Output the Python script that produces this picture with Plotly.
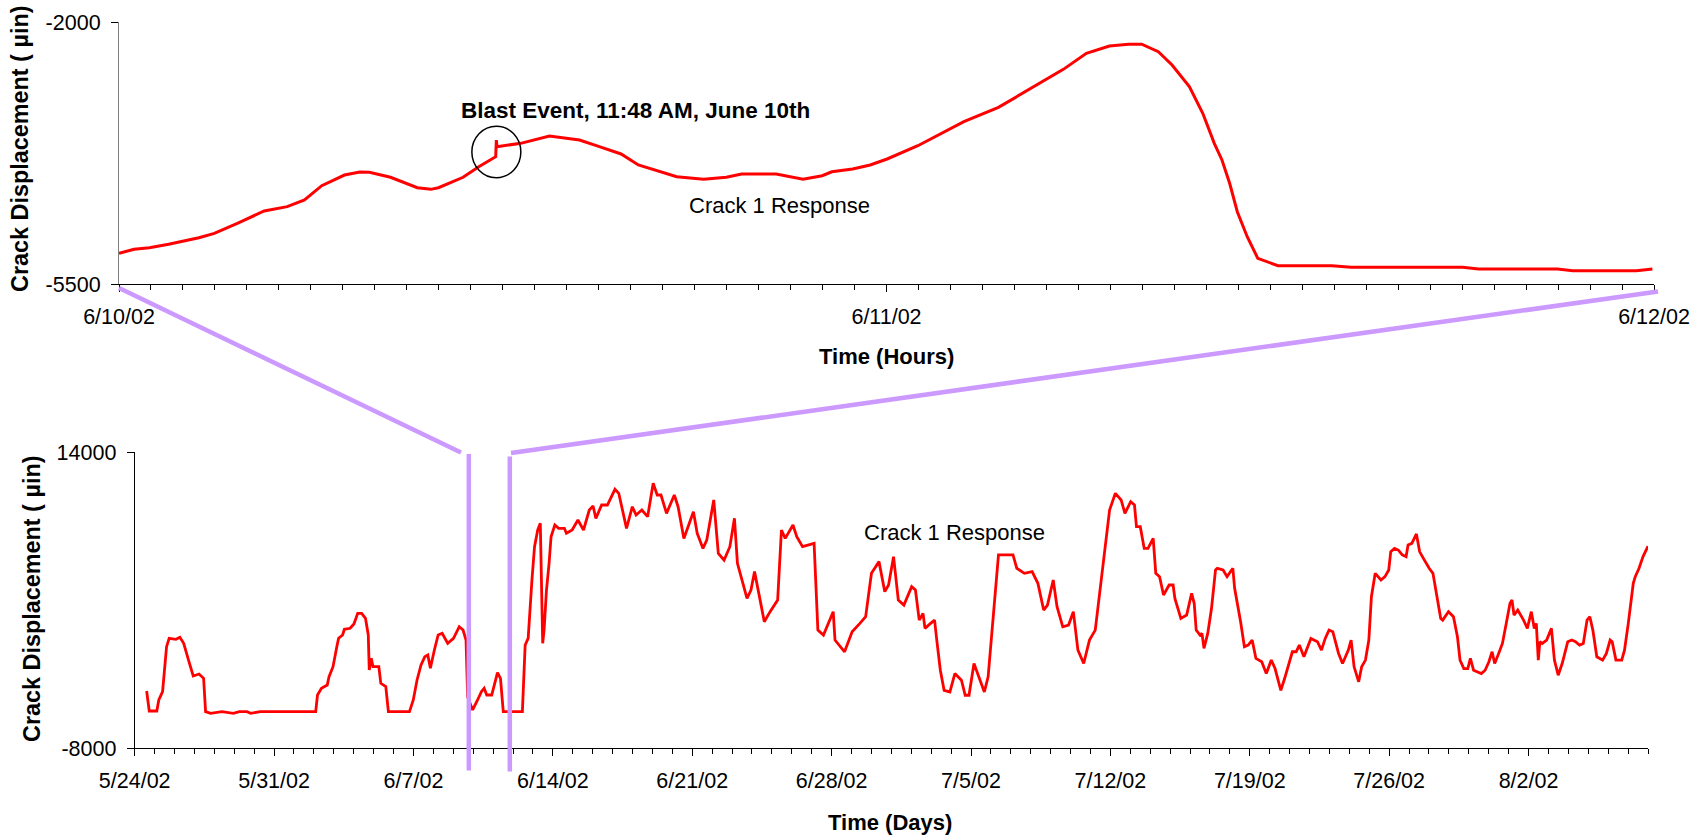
import pandas as pd
import plotly.graph_objects as go

W, H = 1704, 840

# Two-day record around the blast: hours after 6/10/02 00:00 and displacement (micro-inches)
blast_hours = [0.0, 0.47, 0.95, 1.55, 2.5, 2.98, 3.70, 4.54, 5.26, 5.80, 6.34, 7.05, 7.53, 7.83,
               8.49, 8.85, 9.33, 9.75, 9.99, 10.76, 11.25, 11.78, 11.80, 11.82, 12.56, 13.46,
               14.40, 15.02, 15.70, 16.24, 17.44, 18.28, 18.99, 19.47, 20.55, 21.39, 21.99,
               22.29, 22.94, 23.49, 24.02, 24.98, 26.42, 27.50, 28.45, 29.05, 29.53, 30.25,
               30.97, 31.57, 31.98, 32.50, 32.93, 33.47, 33.89, 34.25, 34.49, 34.73, 34.97,
               35.28, 35.61, 36.24, 37.93, 38.53, 42.02, 42.51, 44.98, 45.46, 47.45, 47.95]
blast_disp = [-5087, -5033, -5011, -4966, -4878, -4820, -4686, -4522, -4464, -4375, -4184, -4042,
              -4002, -4006, -4072, -4131, -4211, -4233, -4211, -4072, -3931, -3797, -3575, -3664,
              -3619, -3521, -3575, -3664, -3761, -3908, -4064, -4099, -4072, -4028, -4028, -4099,
              -4051, -3998, -3962, -3908, -3828, -3651, -3330, -3139, -2907, -2752, -2632, -2418,
              -2320, -2296, -2296, -2396, -2574, -2863, -3218, -3619, -3841, -4152, -4531, -4865,
              -5153, -5252, -5252, -5273, -5273, -5296, -5296, -5319, -5319, -5296]

# Blast moment (11:48 AM, June 10th) and the level it is circled at
blast_hour = 11.80
blast_level = -3735

# Full monitoring period: days after 5/24/02 00:00 and displacement (micro-inches)
season_days = [
    0.60, 0.73, 1.11, 1.21, 1.40, 1.50, 1.60, 1.73, 2.07, 2.27, 2.46, 2.75, 2.94, 3.23, 3.46,
    3.56, 3.81, 4.38, 4.96, 5.25, 5.64, 5.82, 6.30, 9.09, 9.18, 9.38, 9.67, 9.76, 9.96, 10.15,
    10.24, 10.44, 10.53, 10.82, 11.01, 11.20, 11.40, 11.59, 11.73, 11.78, 11.88, 11.97, 12.26,
    12.36, 12.61, 12.74, 13.80, 13.99, 14.18, 14.38, 14.57, 14.72, 14.85, 15.05, 15.24, 15.44,
    15.72, 16.01, 16.30, 16.49, 16.64, 16.72, 16.97, 17.22, 17.41, 17.55, 17.68, 17.93, 18.07,
    18.22, 18.37, 18.51, 19.47, 19.61, 19.76, 19.85, 19.95, 20.08, 20.24, 20.37, 20.43, 20.49,
    20.56, 20.68, 20.81, 20.91, 21.10, 21.29, 21.58, 21.68, 21.97, 22.26, 22.54, 22.83, 23.02,
    23.16, 23.45, 23.74, 24.12, 24.31, 24.70, 24.99, 25.18, 25.47, 25.76, 26.04, 26.24, 26.43,
    26.71, 27.10, 27.29, 27.58, 28.06, 28.25, 28.54, 28.73, 29.08, 29.31, 29.60, 29.89, 30.12,
    30.27, 30.75, 30.95, 31.13, 31.33, 31.62, 31.91, 32.29, 32.48, 32.67, 33.06, 33.25, 33.54,
    34.12, 34.31, 34.59, 35.08, 35.17, 35.65, 36.03, 36.42, 36.71, 37.00, 37.38, 37.67, 37.86,
    38.11, 38.35, 38.63, 39.02, 39.21, 39.40, 39.59, 39.69, 39.97, 40.17, 40.30, 40.46, 40.65,
    40.94, 41.19, 41.52, 41.71, 41.90, 42.15, 42.38, 42.67, 42.86, 43.05, 43.19, 43.38, 43.72,
    44.11, 44.30, 44.68, 45.07, 45.36, 45.65, 45.84, 46.13, 46.32, 46.61, 46.90, 47.14, 47.37,
    47.66, 47.95, 48.24, 48.53, 48.96, 49.25, 49.54, 49.73, 50.02, 50.21, 50.31, 50.50, 50.70,
    50.89, 51.15, 51.28, 51.47, 51.67, 51.95, 52.15, 52.24, 52.54, 52.83, 53.08, 53.21, 53.31,
    53.50, 53.60, 53.70, 53.89, 54.08, 54.28, 54.37, 54.66, 54.86, 55.15, 55.24, 55.54, 55.73,
    55.92, 56.12, 56.31, 56.60, 56.83, 57.08, 57.27, 57.56, 57.75, 57.95, 58.14, 58.33, 58.49,
    58.72, 59.07, 59.40, 59.60, 59.79, 59.98, 60.17, 60.46, 60.66, 60.95, 61.09, 61.24, 61.47,
    61.62, 61.81, 61.98, 62.11, 62.30, 62.59, 62.79, 62.98, 63.08, 63.27, 63.46, 63.66, 63.85,
    63.95, 64.14, 64.37, 64.53, 64.72, 65.01, 65.20, 65.40, 65.59, 65.69, 65.98, 66.23, 66.43,
    66.56, 66.75, 66.95, 67.08, 67.24, 67.63, 67.82, 68.01, 68.17, 68.30, 68.50, 68.69, 68.88,
    69.07, 69.17, 69.27, 69.46, 69.75, 69.94, 70.14, 70.29, 70.39, 70.49, 70.57, 70.69, 70.91,
    71.15, 71.30, 71.49, 71.69, 71.97, 72.17, 72.36, 72.56, 72.75, 72.94, 73.08, 73.23, 73.43,
    73.72, 73.91, 74.10, 74.20, 74.39, 74.68, 74.82, 75.01, 75.13, 75.26, 75.36, 75.55, 75.75,
    75.94, 76.00]
season_disp = [
    -3763, -5249, -5249, -4431, -3813, -2202, -469, 154, 80, 228, -218, -1704, -2648, -2499, -2819,
    -5300, -5420, -5300, -5420, -5300, -5300, -5420, -5300, -5300, -4060, -3565, -3317, -2700, -1955, -469,
    154, 400, 823, 897, 1217, 2012, 2012, 1640, 400, -2202, -1332, -1955, -1955,
    -3193, -3441, -5300, -5300, -4431, -2945, -1830, -1212, -1088, -2078, -716, 400, 524,
    -218, 154, 1018, 771, 28, -4183, -5175, -4431, -3813, -3565, -4060, -4060, -3193,
    -2400, -2819, -5300, -5300, -344, 154, 2505, 4487, 6962, 8203, 8697, 4487, -218,
    771, 3743, 5728, 7705, 8575, 8327, 8327, 7957, 8203, 8946, 8203, 9690, 9987,
    9071, 10061, 10061, 11227, 10929, 8327, 9934, 9319, 9690, 9195, 11673, 10805, 10805,
    9442, 10805, 9934, 7577, 9566, 7957, 6834, 7457, 10433, 6466, 5965, 6962, 9071,
    5728, 3122, 3743, 5108, 3495, 1384, 2133, 2996, 8203, 7577, 8575, 7705, 6962,
    7210, 764, 393, 2133, 21, -848, 641, 1260, 1756, 4983, 5852, 3619, 4115,
    6222, 2996, 2624, 3991, 3743, 1508, 2009, 889, 1260, 1508, -231, -2218, -3709,
    -3833, -2466, -2962, -4080, -4080, -1719, -2713, -3833, -2713, 764, 2752, 6354, 6354,
    6354, 5360, 4983, 5108, 4239, 2252, 2624, 4487, 2505, 1008, 1135, 2133, -723,
    -1719, 21, 764, 4487, 9690, 10929, 10433, 9442, 10309, 10061, 8449, 8449, 6834,
    6834, 7577, 4983, 4735, 3370, 4115, 4115, 3122, 1632, 1880, 3495, 2752, 764,
    393, 517, -600, 517, 2381, 5232, 5356, 5232, 4735, 5356, 3867, 1384, -476,
    -352, 21, -1343, -1591, -2466, -1467, -2094, -3709, -2838, -1719, -848, -848, -352,
    -1219, 145, -104, -723, 145, 764, 641, -972, -1719, -723, 21, -1964, -3081,
    -1964, -1467, 21, 3246, 4983, 4487, 4735, 5232, 6598, 6834, 6710, 6354, 6222,
    7094, 7210, 7910, 6598, 6098, 5356, 4983, 3246, 1632, 1508, 2133, 1756, 269,
    -1467, -2094, -2094, -1343, -2218, -2466, -2218, -1591, -848, -1719, -972, -231, 1260,
    2752, 2996, 1880, 2252, 1508, 889, 2133, 889, 1260, -1467, -104, -231, 21,
    889, -1467, -2590, -1719, -104, 21, -104, -352, -231, 1508, 1756, 764, -1219,
    -1467, -972, 21, -104, -1467, -1467, -723, 1260, 2505, 4239, 4735, 5356, 6222,
    6834, 7000]

# Value-axis limits shown as the only labelled ticks
hours_axis_ticks = [-5500, -2000]
days_axis_ticks = [-8000, 14000]

hours_start = pd.Timestamp("2002-06-10")
days_start = pd.Timestamp("2002-05-24")
t_hours = hours_start + pd.to_timedelta(blast_hours, unit="h")
t_days = days_start + pd.to_timedelta(season_days, unit="D")
blast_time = hours_start + pd.to_timedelta(blast_hour, unit="h")

FONT = "Arial, 'Liberation Sans', sans-serif"
RED = "#FF0000"
LILAC = "#CC99FF"


def px(x):
    return x / W


def py(y):
    return 1 - y / H


fig = go.Figure()
fig.add_trace(go.Scatter(x=t_hours, y=blast_disp, mode="lines",
                         line=dict(color=RED, width=3), xaxis="x", yaxis="y",
                         showlegend=False, hoverinfo="skip"))
fig.add_trace(go.Scatter(x=t_days, y=season_disp, mode="lines",
                         line=dict(color=RED, width=2.8), xaxis="x2", yaxis="y2",
                         showlegend=False, hoverinfo="skip"))

tick_font = dict(family=FONT, size=21.5, color="black")
common_x = dict(type="date", showgrid=False, zeroline=False, showline=True,
                linecolor="black", linewidth=1, ticks="outside", tickcolor="black",
                tickwidth=1, ticklen=7, tickfont=tick_font, tickformat="%-m/%-d/%y")
common_y = dict(showgrid=False, zeroline=False, showline=True, ticks="outside",
                tickcolor="black", tickwidth=1, ticklen=7, tickfont=tick_font,
                tickmode="array")

fig.update_layout(
    width=W, height=H,
    margin=dict(l=0, r=0, t=0, b=0, autoexpand=False),
    paper_bgcolor="white", plot_bgcolor="white",
    font=dict(family=FONT, color="black"),
    xaxis=dict(common_x, domain=[px(119), px(1654)], anchor="y",
               range=["2002-06-10", "2002-06-12"], tickmode="linear",
               tick0="2002-06-10", dtick=86400000, ticklabelstandoff=6,
               minor=dict(dtick=3600000, ticks="outside", ticklen=5,
                          tickcolor="black", tickwidth=1, showgrid=False)),
    yaxis=dict(common_y, domain=[py(284.3), py(22)], anchor="x",
               range=[-5500, -2000], tickvals=hours_axis_ticks,
               ticktext=[str(v) for v in hours_axis_ticks],
               linecolor="#808080", linewidth=1.2, ticklabelstandoff=6),
    xaxis2=dict(common_x, domain=[px(134.7), px(1648)], anchor="y2",
                range=["2002-05-24", "2002-08-08"], tickmode="linear",
                tick0="2002-05-24", dtick=7 * 86400000, ticklabelstandoff=6,
                minor=dict(dtick=86400000, ticks="outside", ticklen=5,
                           tickcolor="black", tickwidth=1, showgrid=False)),
    yaxis2=dict(common_y, domain=[py(748), py(452)], anchor="x2",
                range=[-8000, 14000], tickvals=days_axis_ticks,
                ticktext=[str(v) for v in days_axis_ticks],
                linecolor="black", linewidth=1, ticklabelstandoff=6),
)


def label(text, x, y, size=22, angle=0):
    fig.add_annotation(text=text, x=px(x), y=py(y), xref="paper", yref="paper",
                       xanchor="center", yanchor="middle", showarrow=False,
                       textangle=angle, font=dict(family=FONT, size=size, color="black"))


label("<b>Crack Displacement ( \u00b5in)</b>", 20, 149, size=23.4, angle=-90)
label("<b>Crack Displacement ( \u00b5in)</b>", 32, 599, size=23.4, angle=-90)
label("<b>Blast Event, 11:48 AM, June 10th</b>", 635, 111, size=22.5)
label("Crack 1 Response", 779, 205)
label("<b>Time (Hours)</b>", 886, 356)
label("Crack 1 Response", 954, 532)
label("<b>Time (Days)</b>", 890, 822)

# circle around the blast reading
fig.add_shape(type="circle", xref="x", yref="y", xsizemode="pixel", ysizemode="pixel",
              xanchor=blast_time, yanchor=blast_level, x0=-24.5, x1=24.5, y0=-25.7, y1=25.7,
              line=dict(color="black", width=1.5), layer="above")

# zoom connector between the two panels
for (x0, y0, x1, y1) in [(119, 288, 461, 452.5), (468.8, 454, 468.8, 770.5),
                         (1658, 291.5, 511, 453), (509.8, 456.5, 509.8, 771.5)]:
    fig.add_shape(type="line", xref="paper", yref="paper",
                  x0=px(x0), y0=py(y0), x1=px(x1), y1=py(y1),
                  line=dict(color=LILAC, width=4.5), layer="above")

fig.write_html("out.html")
